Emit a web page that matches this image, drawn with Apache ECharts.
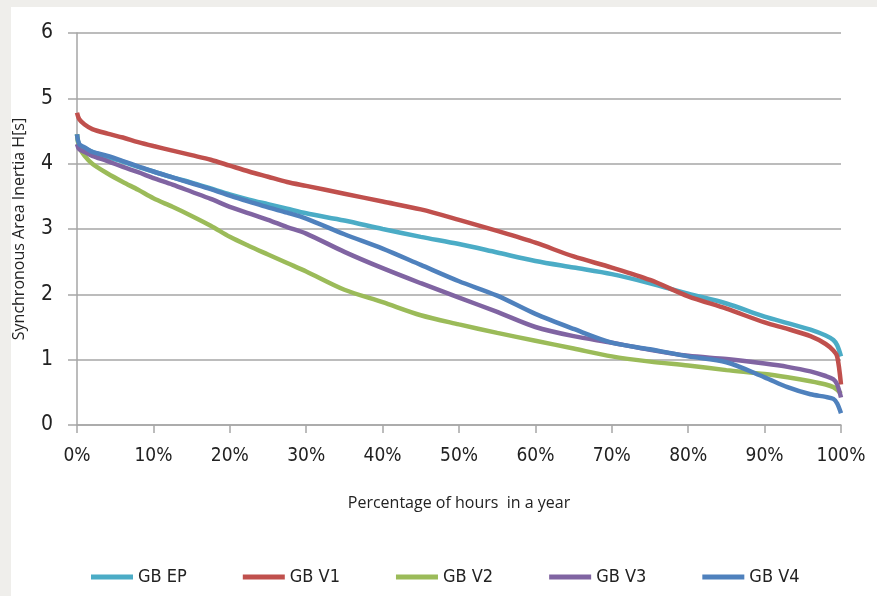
<!DOCTYPE html>
<html>
<head>
<meta charset="utf-8">
<script src="https://cdn.jsdelivr.net/npm/echarts@6/dist/echarts.min.js"></script>
<style>
  html, body { margin: 0; padding: 0; background: #efeeeb; }
  #panel { position: absolute; left: 11px; top: 7px; width: 866px; height: 589px; background: #ffffff; }
  #chart { position: absolute; left: 0; top: 0; width: 877px; height: 596px; }
</style>
</head>
<body>
<div id="panel"></div>
<div id="chart"></div>
<script>
// Percentage of hours in a year (x positions of sampled points)
const pct = [0, 0.3, 1, 2, 4, 6, 8, 10, 12.5, 15, 17.5, 20, 22.5, 25, 27.5, 30, 35, 40, 45, 50, 55, 60, 65, 70, 75, 80, 85, 90, 93, 96, 98, 99, 99.5, 100];

const gbEP = [4.45, 4.28, 4.24, 4.18, 4.10, 4.03, 3.95, 3.88, 3.79, 3.71, 3.62, 3.53, 3.45, 3.38, 3.31, 3.24, 3.13, 3.00, 2.88, 2.77, 2.64, 2.51, 2.41, 2.31, 2.17, 2.01, 1.86, 1.66, 1.56, 1.46, 1.37, 1.30, 1.22, 1.05];
const gbV1 = [4.78, 4.68, 4.60, 4.53, 4.46, 4.40, 4.33, 4.27, 4.20, 4.13, 4.06, 3.97, 3.88, 3.80, 3.72, 3.66, 3.54, 3.42, 3.30, 3.14, 2.97, 2.79, 2.58, 2.41, 2.22, 1.97, 1.78, 1.57, 1.47, 1.36, 1.24, 1.14, 1.05, 0.62];
const gbV2 = [4.45, 4.25, 4.12, 4.00, 3.85, 3.72, 3.60, 3.47, 3.34, 3.20, 3.05, 2.88, 2.74, 2.61, 2.48, 2.35, 2.07, 1.88, 1.68, 1.54, 1.41, 1.29, 1.17, 1.05, 0.97, 0.91, 0.84, 0.78, 0.73, 0.67, 0.62, 0.58, 0.54, 0.48];
const gbV3 = [4.30, 4.22, 4.18, 4.12, 4.04, 3.95, 3.87, 3.78, 3.68, 3.57, 3.46, 3.34, 3.24, 3.14, 3.03, 2.93, 2.65, 2.40, 2.17, 1.95, 1.73, 1.50, 1.36, 1.26, 1.15, 1.06, 1.01, 0.94, 0.89, 0.82, 0.75, 0.70, 0.62, 0.42];
const gbV4 = [4.45, 4.30, 4.25, 4.18, 4.12, 4.04, 3.96, 3.88, 3.79, 3.70, 3.61, 3.51, 3.42, 3.33, 3.25, 3.16, 2.92, 2.70, 2.45, 2.20, 1.98, 1.70, 1.47, 1.26, 1.16, 1.05, 0.96, 0.73, 0.58, 0.47, 0.43, 0.40, 0.33, 0.18];

const seriesNames = ['GB EP', 'GB V1', 'GB V2', 'GB V3', 'GB V4'];
const seriesValues = [gbEP, gbV1, gbV2, gbV3, gbV4];
const seriesColors = ['#4bacc6', '#c0504d', '#9bbb59', '#8064a2', '#4f81bd'];

const FONT = '"Liberation Sans Narrow", "DejaVu Sans Condensed", "Open Sans", sans-serif';
const TITLE_FONT = '"Open Sans", "DejaVu Sans", sans-serif';

const chart = echarts.init(document.getElementById('chart'), null, { renderer: 'canvas' });

const series = seriesNames.map((name, i) => ({
  name: name,
  type: 'line',
  data: pct.map((p, j) => [p, seriesValues[i][j]]),
  showSymbol: false,
  smooth: 0.3,
  lineStyle: { width: 4.5, color: seriesColors[i] },
  itemStyle: { color: seriesColors[i] },
  z: 2 + i,
  animation: false
}));

chart.setOption({
  backgroundColor: 'transparent',
  animation: false,
  grid: { left: 77, right: 36, top: 33, bottom: 171, containLabel: false },
  legend: {
    bottom: 5,
    left: 86,
    itemWidth: 42,
    itemHeight: 5,
    itemGap: 56,
    icon: 'rect',
    textStyle: { fontFamily: FONT, fontSize: 18, color: '#222' },
    data: seriesNames
  },
  xAxis: {
    type: 'value',
    min: 0, max: 100, interval: 10,
    name: 'Percentage of hours  in a year',
    nameLocation: 'middle',
    nameGap: 70,
    nameTextStyle: { fontFamily: TITLE_FONT, fontSize: 16, color: '#222' },
    axisLine: { show: true, lineStyle: { color: '#a6a6a6', width: 1.5 } },
    axisTick: { show: true, length: 8, lineStyle: { color: '#a6a6a6', width: 1.5 } },
    splitLine: { show: false },
    axisLabel: { formatter: '{value}%', fontFamily: FONT, fontSize: 19, color: '#222', margin: 22 }
  },
  yAxis: {
    type: 'value',
    min: 0, max: 6, interval: 1,
    name: 'Synchronous Area Inertia H[s]',
    nameLocation: 'middle',
    nameGap: 50,
    nameTextStyle: { fontFamily: TITLE_FONT, fontSize: 16, color: '#222' },
    axisLine: { show: true, lineStyle: { color: '#a6a6a6', width: 1.5 } },
    axisTick: { show: true, length: 9, lineStyle: { color: '#a6a6a6', width: 1.5 } },
    splitLine: { show: true, lineStyle: { color: '#a6a6a6', width: 1.5 } },
    axisLabel: { fontFamily: FONT, fontSize: 21, color: '#222', margin: 24 }
  },
  series: series
});
</script>
</body>
</html>
